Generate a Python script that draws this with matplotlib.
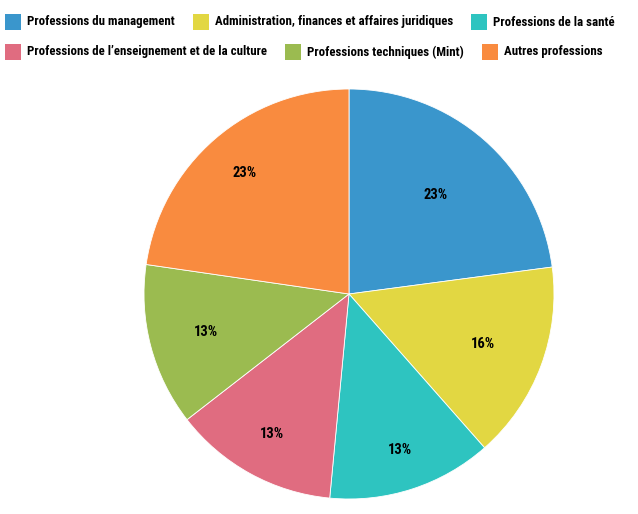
import matplotlib
matplotlib.use('Agg')
import matplotlib.pyplot as plt
from matplotlib.patches import Rectangle
from matplotlib import font_manager
import numpy as np

names = {f.name for f in font_manager.fontManager.ttflist}
narrow = [n for n in ['Roboto Condensed', 'DejaVu Sans Condensed', 'Liberation Sans Narrow',
                      'Roboto', 'Lato'] if n in names]
family = narrow[:1] + ['DejaVu Sans']
plt.rcParams['font.family'] = family

categories = ['Professions du management',
              'Administration, finances et affaires juridiques',
              'Professions de la santé',
              'Professions de l\u2019enseignement et de la culture',
              'Professions techniques (Mint)',
              'Autres professions']
shares = [22.9, 15.6, 13.0, 13.0, 12.8, 22.7]
colors = ['#3a96cc', '#e2d742', '#2ec4c0', '#e06c80', '#9bbb50', '#f98b3f']
label_dist = [0.64, 0.70, 0.80, 0.78, 0.72, 0.78]

W, H = 638, 514
fig = plt.figure(figsize=(W / 100, H / 100), dpi=100)
cx, cy, r = 349, 294, 205
ax = fig.add_axes([(cx - r) / W, (H - cy - r) / H, 2 * r / W, 2 * r / H])

wedges, texts, autotexts = ax.pie(
    shares, colors=colors, startangle=90, counterclock=False,
    autopct='%.0f%%', pctdistance=0.63,
    wedgeprops=dict(edgecolor='white', linewidth=0.6),
    textprops=dict(fontsize=10.5, fontweight='bold', color='black'))
for w, t, d in zip(wedges, autotexts, label_dist):
    mid = np.deg2rad((w.theta1 + w.theta2) / 2)
    t.set_position((d * np.cos(mid), d * np.sin(mid)))
ax.set_xlim(-1, 1)
ax.set_ylim(-1, 1)
ax.set_aspect('equal')

# manual flowing legend, two rows like the reference
renderer = fig.canvas.get_renderer()
fs = 9.25
rows = [(categories[:3], colors[:3], 22), (categories[3:], colors[3:], 52)]
for labels, cols, yc in rows:
    x = 5
    for lab, c in zip(labels, cols):
        fig.patches.append(Rectangle((x / W, 1 - (yc + 8) / H), 16 / W, 16 / H,
                                     transform=fig.transFigure, facecolor=c,
                                     edgecolor='none', figure=fig))
        t = fig.text((x + 22) / W, 1 - yc / H, lab, fontsize=fs, fontweight='bold',
                     va='center', ha='left')
        x += 22 + t.get_window_extent(renderer).width + 18

fig.savefig('out.png', dpi=100)
